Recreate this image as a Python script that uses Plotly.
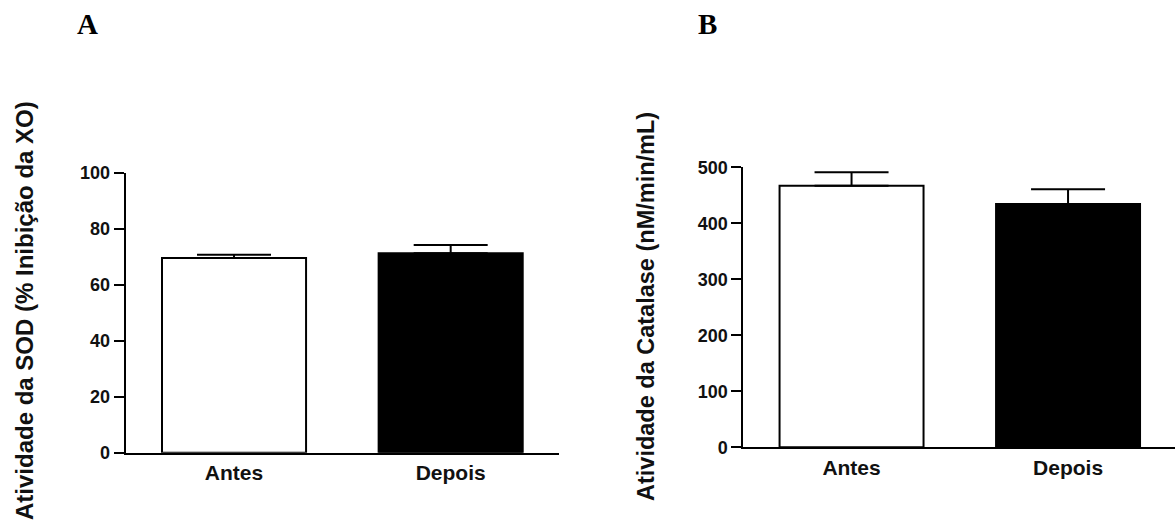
import plotly.graph_objects as go

categories = ["Antes", "Depois"]
sod_values = [69.5, 71.2]
sod_errors = [1.2, 3.0]
cat_values = [467, 434.5]
cat_errors = [24, 26.5]
sod_ticks = [0, 20, 40, 60, 80, 100]
cat_ticks = [0, 100, 200, 300, 400, 500]
fill_colors = ["white", "black"]

W, H = 1175, 524
SANS = "Liberation Sans, Arial, sans-serif"
SERIF = "Liberation Serif, Times New Roman, serif"

fig = go.Figure()

def add_bars(xaxis, yaxis, vals, errs):
    fig.add_trace(go.Bar(
        x=categories, y=vals, width=0.665,
        marker=dict(color=fill_colors, line=dict(color="black", width=2)),
        error_y=dict(type="data", array=errs, arrayminus=[0] * len(errs), symmetric=False,
                     color="black", thickness=2, width=37),
        xaxis=xaxis, yaxis=yaxis, showlegend=False, hoverinfo="skip",
    ))

add_bars("x", "y", sod_values, sod_errors)
add_bars("x2", "y2", cat_values, cat_errors)

def px_x(p):
    return p / W

def px_y(p):
    return 1 - p / H

xcommon = dict(type="category", showline=True, linecolor="black", linewidth=2,
               ticks="", showgrid=False, zeroline=False, automargin=False,
               tickfont=dict(family=SANS, size=21, color="#111", weight="bold"))
ycommon = dict(showline=True, linecolor="black", linewidth=2, ticks="outside",
               ticklen=10, tickwidth=2, tickcolor="black", showgrid=False, zeroline=False,
               automargin=False,
               tickfont=dict(family=SANS, size=18, color="#111", weight="bold"))

def ann(text, x, y, font):
    return dict(text=text, x=px_x(x), y=px_y(y), xref="paper", yref="paper",
                xanchor="center", yanchor="middle", showarrow=False, font=font)

letter_font = dict(family=SERIF, size=29, color="black", weight="bold")
title_font_a = dict(family=SANS, size=24, color="#111", weight="bold")
title_font_b = dict(family=SANS, size=23.5, color="#111", weight="bold")

a3 = ann("Atividade da SOD (% Inibição da XO)", 24, 311, title_font_a)
a3["textangle"] = -90
a4 = ann("Atividade da Catalase (nM/min/mL)", 646, 306, title_font_b)
a4["textangle"] = -90

fig.update_layout(
    template="none",
    width=W, height=H, autosize=False,
    margin=dict(l=0, r=0, t=0, b=0, pad=0),
    paper_bgcolor="white", plot_bgcolor="white",
    xaxis=dict(domain=[px_x(125.7), px_x(559)], range=[-0.5, 1.5], anchor="y", **xcommon),
    yaxis=dict(domain=[px_y(452.7), px_y(172.7)], range=[0, 100], tickvals=sod_ticks,
               anchor="x", **ycommon),
    xaxis2=dict(domain=[px_x(743.3), 1.0], range=[-0.5, 1.494], anchor="y2", **xcommon),
    yaxis2=dict(domain=[px_y(447.3), px_y(167.3)], range=[0, 500], tickvals=cat_ticks,
                anchor="x2", **ycommon),
    annotations=[
        ann("A", 87, 24, letter_font),
        ann("B", 707, 24, letter_font),
        a3, a4,
    ],
)

fig.write_html("out.html")
